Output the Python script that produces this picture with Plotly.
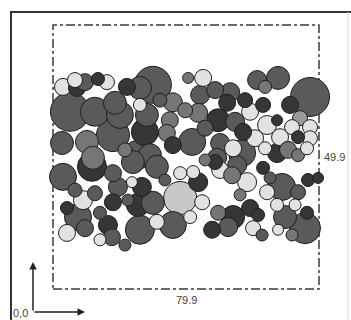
import plotly.graph_objects as go

# Particle centres in box units (box is 79.9 x 49.9), diameters in px, grey class
px = [3.0, 6.6, 7.2, 9.6, 13.5, 16.2, 5.1, 12.6, 18.6, 20.1, 22.2, 26.1, 26.1, 27.6, 18.0, 10.2, 2.7, 12.0, 25.2,
      30.0, 40.6, 45.1, 44.2, 48.7, 53.2, 52.3, 43.6, 36.0, 28.2, 35.1, 39.7, 34.2, 41.8, 49.6, 54.7, 50.2, 36.0, 29.1, 49.3,
      61.3, 67.6, 63.7, 77.2, 71.2, 74.2, 57.7, 59.2, 63.1, 64.3, 67.3, 71.8, 77.2, 73.6, 77.2, 68.2, 60.7, 57.1, 54.1, 56.8,
      67.3, 70.6, 73.6, 76.3, 63.7,
      3.0, 11.7, 18.0, 19.5, 9.0, 12.6, 18.0, 14.1, 7.5, 4.2, 4.2, 9.6, 16.5, 17.7, 26.1, 25.5, 26.7, 23.7, 24.0,
      31.2, 38.2, 38.2, 42.1, 44.8, 41.2, 43.6, 30.0, 31.2, 36.0, 47.8, 49.6, 48.7, 50.2, 53.8, 54.1, 52.6,
      58.3, 55.3, 63.1, 68.8, 64.3, 73.6, 76.6, 79.6, 59.2, 61.6, 60.1, 67.3, 69.7, 75.7, 76.3, 67.6,
      45.7, 32.1, 21.6, 22.5, 33.6, 45.7, 56.2, 65.2, 72.7, 62.8, 71.8, 6.6, 14.1, 21.6]
py = [38.2, 39.5, 38.0, 39.1, 39.7, 39.1, 33.5, 33.5, 35.2, 32.9, 38.2, 38.0, 34.8, 29.7, 29.1, 27.8, 27.6, 24.8, 25.3,
      38.6, 39.9, 39.9, 36.7, 37.6, 37.2, 35.2, 33.3, 35.3, 32.9, 31.9, 33.8, 29.5, 27.8, 31.9, 31.6, 27.6, 27.2, 25.3, 24.8,
      39.5, 39.9, 38.2, 36.3, 34.8, 32.3, 35.7, 33.5, 34.8, 31.0, 31.9, 30.6, 30.6, 28.7, 28.5, 28.7, 28.5, 29.7, 26.6, 25.7,
      25.7, 26.3, 25.3, 26.6, 26.6,
      21.2, 23.1, 21.9, 19.3, 16.8, 18.1, 16.4, 14.4, 13.6, 15.3, 10.6, 11.5, 12.1, 9.8, 11.2, 15.9, 19.3, 20.2, 24.0,
      23.1, 17.2, 21.9, 22.1, 16.4, 13.6, 20.2, 16.3, 12.7, 12.1, 11.2, 14.4, 24.0, 22.5, 21.5, 13.6, 11.7,
      20.2, 23.4, 22.9, 19.3, 18.3, 18.3, 20.6, 21.0, 15.3, 14.0, 11.5, 15.9, 13.6, 11.5, 14.4, 11.2,
      30.4, 35.7, 26.3, 16.8, 20.6, 24.4, 17.8, 21.0, 15.9, 10.2, 10.2, 18.7, 9.3, 8.3]
diam = [17, 15, 17, 17, 13, 15, 39, 29, 23, 27, 17, 23, 13, 27, 33, 23, 23, 23, 29,
        37, 11, 17, 19, 17, 19, 17, 19, 19, 23, 17, 15, 17, 27, 23, 19, 19, 17, 23, 19,
        19, 23, 13, 39, 17, 15, 15, 17, 15, 19, 11, 15, 15, 13, 15, 17, 17, 17, 17, 27,
        19, 17, 13, 13, 13,
        27, 29, 17, 19, 19, 15, 17, 13, 27, 13, 17, 17, 19, 17, 29, 23, 19, 11, 23,
        23, 33, 13, 13, 15, 13, 19, 23, 15, 27, 17, 15, 15, 17, 17, 23, 19,
        19, 19, 13, 27, 15, 15, 13, 11, 17, 13, 15, 13, 23, 31, 13, 11,
        16, 14, 14, 12, 12, 12, 12, 12, 12, 12, 12, 14, 12, 12]
shade = ["L", "L", "K", "D", "K", "L", "D", "D", "D", "D", "K", "D", "L", "K", "D", "M", "D", "M", "D",
         "D", "M", "L", "D", "D", "D", "K", "M", "M", "D", "M", "M", "M", "D", "K", "D", "D", "K", "D", "D",
         "D", "D", "M", "D", "K", "X", "K", "L", "K", "L", "K", "L", "L", "K", "L", "L", "L", "K", "L", "D",
         "K", "M", "M", "L", "L",
         "D", "K", "D", "D", "L", "D", "K", "D", "D", "K", "L", "D", "K", "D", "D", "K", "K", "L", "D",
         "D", "X2", "L", "L", "L", "L", "K", "D", "L", "D", "K", "M", "K", "L", "M", "K", "D",
         "L", "D", "K", "D", "L", "D", "K", "K", "K", "K", "L", "L", "D", "D", "K", "L",
         "D", "D", "M", "D", "D", "M", "M", "D", "L", "D", "M", "D", "L", "D"]

box_w = 79.9
box_h = 49.9
labels = ["79.9", "49.9", "0,0"]

palette = {"L": "#e2e2e2", "X2": "#c8c8c8", "X": "#9a9a9a", "M": "#767676", "D": "#5a5a5a", "K": "#363636"}

W, H = 351, 320

order = sorted(range(len(px)), key=lambda i: -diam[i])
fig = go.Figure(go.Scatter(
    x=[px[i] for i in order], y=[py[i] for i in order], mode="markers",
    marker=dict(size=[diam[i] for i in order], color=[palette[shade[i]] for i in order],
                line=dict(color="#1e1e1e", width=1), opacity=1),
    hoverinfo="skip"))

# dash-dot bounding box
fig.add_shape(type="rect", x0=0, y0=0, x1=box_w, y1=box_h, xref="x", yref="y",
              line=dict(color="#3a3a3a", width=1.5, dash="dashdot"), layer="below")

# outer frame
fig.add_shape(type="line", xref="paper", yref="paper", x0=10/W, x1=1, y0=1-12/H, y1=1-12/H,
              line=dict(color="#333", width=2))
fig.add_shape(type="line", xref="paper", yref="paper", x0=11/W, x1=11/W, y0=1-12/H, y1=0,
              line=dict(color="#333", width=2))
fig.add_shape(type="line", xref="paper", yref="paper", x0=348/W, x1=348/W, y0=1-12/H, y1=0,
              line=dict(color="#d8d8d8", width=1))

font = dict(family="Liberation Sans, Arial", size=11, color="#444")
fig.add_annotation(x=box_w/2, y=-2.1, text=labels[0], showarrow=False, font=font, xref="x", yref="y")
fig.add_annotation(x=84.7, y=box_h/2, text=labels[1], showarrow=False, font=font, xref="x", yref="y")
fig.add_annotation(x=-9.9, y=-4.5, text=labels[2], showarrow=False, font=font, xref="x", yref="y")

# axis arrows
fig.add_annotation(x=33/W, y=1-262/H, xref="paper", yref="paper", ax=0, ay=50, text="",
                   showarrow=True, arrowhead=2, arrowsize=1, arrowwidth=1.5, arrowcolor="#222")
fig.add_annotation(x=85/W, y=1-312/H, xref="paper", yref="paper", ax=-52, ay=0, text="",
                   showarrow=True, arrowhead=2, arrowsize=1, arrowwidth=1.5, arrowcolor="#222")

fig.update_layout(width=W, height=H, margin=dict(l=0, r=0, t=0, b=0),
                  paper_bgcolor="white", plot_bgcolor="white", showlegend=False,
                  xaxis=dict(range=[-15.92, 89.51], visible=False, fixedrange=True),
                  yaxis=dict(range=[-5.86, 54.63], visible=False, fixedrange=True))
fig.write_html("out.html", config={"displayModeBar": False},
               post_script="document.body.style.margin='0';document.body.style.overflow='hidden';")
